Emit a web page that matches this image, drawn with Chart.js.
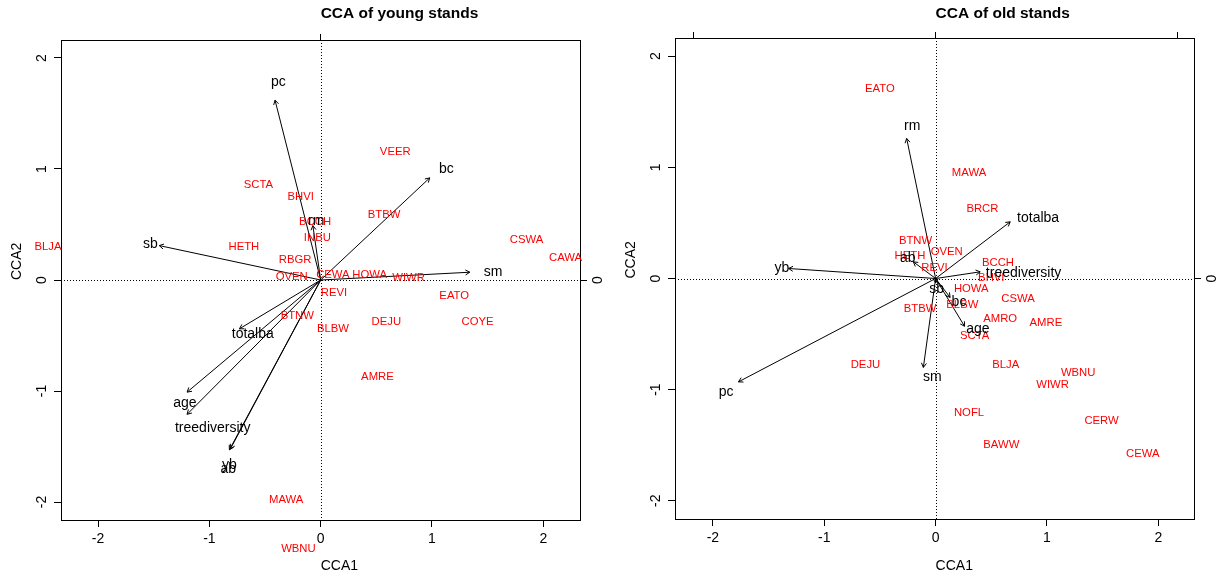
<!DOCTYPE html>
<html lang="en">
<head>
<meta charset="UTF-8">
<title>CCA of young and old stands</title>
<script src="https://cdn.jsdelivr.net/npm/chart.js"></script>
<style>
    body { margin: 0; background: #fff; overflow: hidden; }
    .panel { position: absolute; top: 0; height: 576px; }
    #youngbox { left: 0; width: 610px; }
    #oldbox { left: 610px; width: 609px; }
</style>
</head>
<body>
<div class="panel" id="youngbox"><canvas id="young"></canvas></div>
<div class="panel" id="oldbox"><canvas id="old"></canvas></div>

<script>
// ---- young stands: species scores (CCA1, CCA2)
const youngSpecies = ['BLJA', 'SCTA', 'BHVI', 'BCCH', 'INBU', 'HETH', 'RBGR', 'OVEN', 'CEWA', 'HOWA', 'WIWR', 'REVI',
    'BTNW', 'BLBW', 'DEJU', 'VEER', 'BTBW', 'CSWA', 'CAWA', 'EATO', 'COYE', 'AMRE', 'MAWA', 'WBNU'];
const youngSpX = [-2.45, -0.56, -0.18, -0.05, -0.03, -0.69, -0.23, -0.26, 0.11, 0.44, 0.79, 0.12,
    -0.21, 0.11, 0.59, 0.67, 0.57, 1.85, 2.20, 1.20, 1.41, 0.51, -0.31, -0.20];
const youngSpY = [0.30, 0.86, 0.75, 0.52, 0.38, 0.30, 0.18, 0.03, 0.05, 0.05, 0.02, -0.12,
    -0.32, -0.44, -0.38, 1.15, 0.59, 0.36, 0.20, -0.14, -0.38, -0.87, -1.98, -2.42];
// ---- young stands: environmental arrows (tip) and their label positions
const youngEnv = ['pc', 'rm', 'sb', 'bc', 'sm', 'totalba', 'age', 'treediversity', 'yb', 'ab'];
const youngEnvX = [-0.41, -0.07, -1.45, 0.98, 1.34, -0.73, -1.20, -1.20, -0.81, -0.82];
const youngEnvY = [1.62, 0.49, 0.31, 0.92, 0.07, -0.44, -1.01, -1.21, -1.52, -1.53];
const youngLabX = [-0.38, -0.04, -1.53, 1.13, 1.55, -0.61, -1.22, -0.97, -0.82, -0.83];
const youngLabY = [1.78, 0.53, 0.32, 1.00, 0.07, -0.49, -1.11, -1.33, -1.67, -1.70];

// ---- old stands: species scores
const oldSpecies = ['EATO', 'MAWA', 'BRCR', 'BTNW', 'HETH', 'OVEN', 'REVI', 'BCCH', 'BHVI', 'HOWA', 'BLBW', 'CSWA',
    'BTBW', 'AMRO', 'AMRE', 'SCTA', 'DEJU', 'BLJA', 'WBNU', 'WIWR', 'NOFL', 'CERW', 'BAWW', 'CEWA'];
const oldSpX = [-0.50, 0.30, 0.42, -0.18, -0.23, 0.10, -0.01, 0.56, 0.50, 0.32, 0.24, 0.74,
    -0.14, 0.58, 0.99, 0.35, -0.63, 0.63, 1.28, 1.05, 0.30, 1.49, 0.59, 1.86];
const oldSpY = [1.71, 0.95, 0.63, 0.34, 0.20, 0.24, 0.10, 0.14, 0.01, -0.09, -0.24, -0.18,
    -0.27, -0.36, -0.40, -0.52, -0.78, -0.78, -0.85, -0.96, -1.21, -1.28, -1.50, -1.58];
// ---- old stands: environmental arrows
const oldEnv = ['rm', 'ab', 'yb', 'treediversity', 'totalba', 'sb', 'bc', 'age', 'sm', 'pc'];
const oldEnvX = [-0.26, -0.20, -1.32, 0.40, 0.67, 0.00, 0.13, 0.26, -0.11, -1.77];
const oldEnvY = [1.26, 0.15, 0.09, 0.06, 0.51, -0.04, -0.17, -0.43, -0.80, -0.93];
const oldLabX = [-0.21, -0.25, -1.38, 0.79, 0.92, 0.01, 0.21, 0.38, -0.03, -1.88];
const oldLabY = [1.37, 0.18, 0.09, 0.05, 0.54, -0.10, -0.21, -0.46, -0.89, -1.02];

// ---- axes
const axisTicks = [-2, -1, 0, 1, 2];
const rightTicks = [0];
const youngTopTicks = [0];
const oldTopTicks = [-2.17, 0, 2.17];

const FONT = '"Liberation Sans", Arial, Helvetica, sans-serif';

const biplotPlugin = {
    id: 'biplot',
    beforeDatasetsDraw(chart) {
        // dotted lines through the origin
        const {ctx, chartArea: a, scales} = chart;
        const x0 = Math.round(scales.x.getPixelForValue(0)) + 0.5;
        const y0 = Math.round(scales.y.getPixelForValue(0)) + 0.5;
        ctx.save();
        ctx.strokeStyle = '#000';
        ctx.lineWidth = 1;
        ctx.setLineDash([1, 2]);
        ctx.beginPath();
        ctx.moveTo(x0, a.top);
        ctx.lineTo(x0, a.bottom);
        ctx.moveTo(a.left, y0);
        ctx.lineTo(a.right, y0);
        ctx.stroke();
        ctx.restore();
    },
    afterDatasetsDraw(chart, args, opts) {
        const {ctx, chartArea: a, scales} = chart;
        ctx.save();
        // arrow heads
        ctx.strokeStyle = '#000';
        ctx.lineWidth = 1;
        chart.data.datasets.forEach((ds, i) => {
            if (!ds.arrow) return;
            const pts = chart.getDatasetMeta(i).data;
            const p0 = pts[0], p1 = pts[1];
            const ang = Math.atan2(p1.y - p0.y, p1.x - p0.x);
            const len = 5;
            ctx.beginPath();
            ctx.moveTo(p1.x - len * Math.cos(ang - Math.PI / 6), p1.y - len * Math.sin(ang - Math.PI / 6));
            ctx.lineTo(p1.x, p1.y);
            ctx.lineTo(p1.x - len * Math.cos(ang + Math.PI / 6), p1.y - len * Math.sin(ang + Math.PI / 6));
            ctx.stroke();
        });

        ctx.textAlign = 'center';
        ctx.textBaseline = 'middle';
        // species names
        ctx.fillStyle = '#ff0000';
        ctx.font = '11.3px ' + FONT;
        chart.getDatasetMeta(0).data.forEach((pt, i) => {
            ctx.fillText(opts.species[i], pt.x, pt.y);
        });
        // environmental variable names
        ctx.fillStyle = '#000';
        ctx.font = '14px ' + FONT;
        chart.getDatasetMeta(1).data.forEach((pt, i) => {
            ctx.fillText(opts.env[i], pt.x, pt.y);
        });

        // title and axis labels start at the origin, as in the original
        const x0 = scales.x.getPixelForValue(0);
        const y0 = scales.y.getPixelForValue(0);
        ctx.textAlign = 'left';
        ctx.font = 'bold 15.5px ' + FONT;
        ctx.fillText(opts.title, x0, 14);
        ctx.font = '14px ' + FONT;
        ctx.fillText('CCA1', x0, 566);
        ctx.translate(a.left - 44, y0);
        ctx.rotate(-Math.PI / 2);
        ctx.fillText('CCA2', 0, 0);
        ctx.restore();
    }
};

function tickAxis(extra) {
    return Object.assign({
        type: 'linear',
        grid: { drawOnChartArea: false, drawTicks: true, tickLength: 7, color: '#000', lineWidth: 1 },
        border: { display: true, color: '#000', width: 1 },
        ticks: { color: '#000', font: { family: FONT, size: 14 }, autoSkip: false, callback: v => String(v) }
    }, extra);
}

function makeBiplot(canvasId, p) {
    const arrows = p.env.map((name, i) => ({
        label: name,
        arrow: true,
        data: [{x: 0, y: 0}, {x: p.envX[i], y: p.envY[i]}],
        showLine: true,
        borderColor: '#000',
        borderWidth: 1,
        pointRadius: 0,
        clip: false
    }));
    const ctx = document.getElementById(canvasId).getContext('2d');
    return new Chart(ctx, {
        type: 'scatter',
        data: {
            datasets: [
                { label: 'species', data: p.spX.map((x, i) => ({x: x, y: p.spY[i]})), pointRadius: 0, clip: false },
                { label: 'env labels', data: p.labX.map((x, i) => ({x: x, y: p.labY[i]})), pointRadius: 0, clip: false },
                ...arrows
            ]
        },
        options: {
            responsive: true,
            maintainAspectRatio: false,
            animation: false,
            events: [],
            layout: { padding: 0 },
            plugins: {
                legend: { display: false },
                tooltip: { enabled: false },
                biplot: { title: p.title, species: p.species, env: p.env }
            },
            scales: {
                x: tickAxis({
                    position: 'bottom', min: p.xMin, max: p.xMax,
                    afterBuildTicks: s => { s.ticks = axisTicks.map(v => ({value: v})); },
                    afterFit: s => { s.height = p.bottom; },
                    ticks: { color: '#000', font: { family: FONT, size: 14 }, padding: 4, autoSkip: false,
                        maxRotation: 0, callback: v => String(v) }
                }),
                y: tickAxis({
                    position: 'left', min: p.yMin, max: p.yMax,
                    afterBuildTicks: s => { s.ticks = axisTicks.map(v => ({value: v})); },
                    afterFit: s => { s.width = p.left; },
                    ticks: { color: '#000', font: { family: FONT, size: 14 }, padding: 6, autoSkip: false,
                        minRotation: 90, maxRotation: 90, crossAlign: 'center', callback: v => String(v) }
                }),
                x2: tickAxis({
                    position: 'top', min: p.xMin, max: p.xMax,
                    afterBuildTicks: s => { s.ticks = p.topTicks.map(v => ({value: v})); },
                    afterFit: s => { s.height = p.top; },
                    grid: { drawOnChartArea: false, drawTicks: true, tickLength: 6, color: '#000', lineWidth: 1 },
                    ticks: { display: false }
                }),
                y2: tickAxis({
                    position: 'right', min: p.yMin, max: p.yMax,
                    afterBuildTicks: s => { s.ticks = rightTicks.map(v => ({value: v})); },
                    afterFit: s => { s.width = p.right; },
                    ticks: { color: '#000', font: { family: FONT, size: 14 }, padding: 7, autoSkip: false,
                        minRotation: 90, maxRotation: 90, crossAlign: 'center', callback: v => String(v) }
                })
            }
        },
        plugins: [biplotPlugin]
    });
}

makeBiplot('young', {
    title: 'CCA of young stands',
    species: youngSpecies, spX: youngSpX, spY: youngSpY,
    env: youngEnv, envX: youngEnvX, envY: youngEnvY, labX: youngLabX, labY: youngLabY,
    topTicks: youngTopTicks,
    xMin: -2.333, xMax: 2.330, yMin: -2.162, yMax: 2.162,
    left: 61, right: 30, top: 40, bottom: 56
});

makeBiplot('old', {
    title: 'CCA of old stands',
    species: oldSpecies, spX: oldSpX, spY: oldSpY,
    env: oldEnv, envX: oldEnvX, envY: oldEnvY, labX: oldLabX, labY: oldLabY,
    topTicks: oldTopTicks,
    xMin: -2.34, xMax: 2.32, yMin: -2.164, yMax: 2.164,
    left: 65, right: 25, top: 38, bottom: 57
});
</script>
</body>
</html>
